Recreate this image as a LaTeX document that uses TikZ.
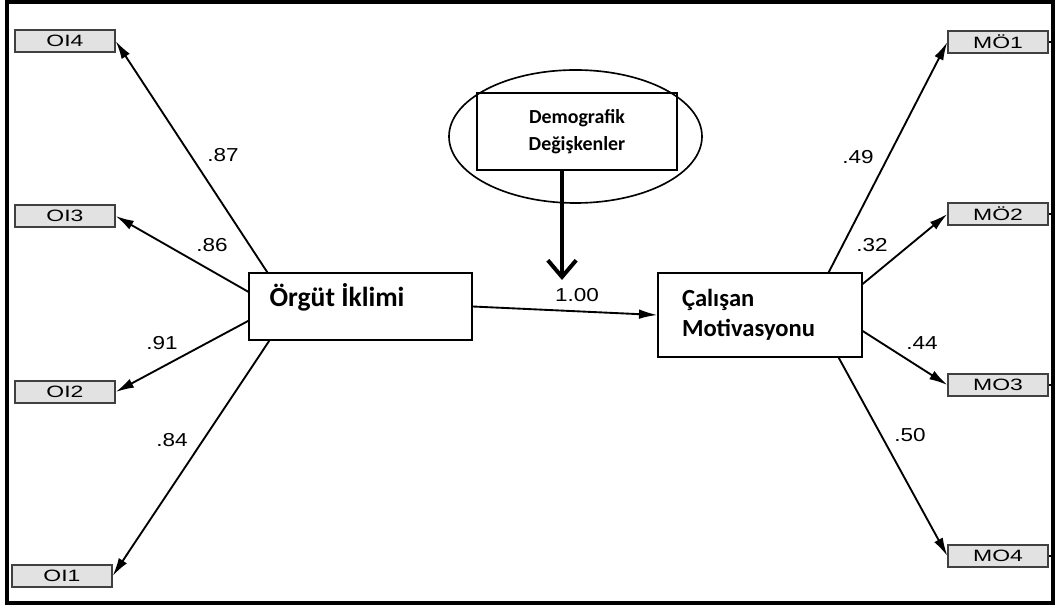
\documentclass[tikz,border=0pt]{standalone}
\usepackage{fontspec}
\setmainfont{Carlito}
\newfontfamily\coeffont[FakeStretch=1.2]{Liberation Sans}
\newfontfamily\itemfont[FakeStretch=1.4]{Liberation Sans}
\usetikzlibrary{arrows.meta,calc,shapes.geometric,positioning}
\definecolor{itemgray}{RGB}{226,226,226}
\tikzset{
  outerframe/.style={black, line width=4pt},
  indicator/.style={draw=black!75, line width=1.1pt, fill=itemgray,
                    minimum width=30mm, minimum height=6.6mm, inner sep=0pt,
                    font=\itemfont\fontsize{14}{16}\selectfont},
  latent/.style={draw=black, line width=1.1pt, fill=white, inner sep=0pt},
  effect/.style={-{Latex[length=5.5mm,width=2.9mm]}, line width=1.6pt},
  moder/.style={-{Straight Barb[length=5mm,width=8.5mm]}, line width=3.4pt},
  coef/.style={font=\coeffont\fontsize{16}{18}\selectfont},
  stub/.style={black, line width=1pt},
}

\begin{document}
\begin{tikzpicture}[x=1cm,y=1cm]
  \path[use as bounding box] (0,0) rectangle (31.68,18.3);
  \draw[outerframe] (0.21,0.21) rectangle (31.59,18.24);

  % observed items, left
  \node[indicator] (OI4) at (1.95,17.07) {OI4};
  \node[indicator] (OI3) at (1.95,11.82) {OI3};
  \node[indicator] (OI2) at (1.95,6.54) {OI2};
  \node[indicator] (OI1) at (1.86,1.02) {OI1};

  % observed items, right
  \node[indicator] (MO1) at (29.94,17.04) {MÖ1};
  \node[indicator] (MO2) at (29.94,11.88) {MÖ2};
  \node[indicator] (MO3) at (29.94,6.75) {MO3};
  \node[indicator] (MO4) at (29.94,1.62) {MO4};
  \draw[stub] (MO1.east) -- ++(0.2,0);
  \draw[stub] (MO2.east) -- ++(0.2,0);
  \draw[stub] (MO3.east) -- ++(0.2,0);
  \draw[stub] (MO4.east) -- ++(0.2,0);

  % latent boxes
  \node[latent, minimum width=66.9mm, minimum height=20.1mm] (ORG) at (10.815,9.105) {};
  \node[font=\bfseries\fontsize{23.5}{28}\selectfont, inner sep=0pt, anchor=west]
    (ORGlab) at ($(ORG.west)+(0.63,0.28)$) {Örgüt İklimi};
  \node[latent, minimum width=61.2mm, minimum height=25.2mm,
        text width=46.8mm, align=left,
        font=\bfseries\fontsize{21}{26}\selectfont] (CAL) at (22.8,8.85)
    {Çalışan\\Motivasyonu};

  % moderator
  \node[draw, ellipse, line width=1.4pt, minimum width=75.9mm,
        minimum height=39.9mm, inner sep=0pt] (DEMell) at (17.265,14.205) {};
  \node[draw, line width=2pt, minimum width=60mm, minimum height=23.1mm,
        inner sep=0pt, align=center,
        font=\bfseries\fontsize{17}{23}\selectfont] (DEM) at (17.31,14.355)
    {Demografik\\Değişkenler};
  \coordinate (DEMtip) at (16.86,9.9);
  \draw[moder] (DEM.south -| DEMtip) -- (DEMtip);

  % paths
  \draw[effect] (ORG.east) -- (CAL.west);
  \node[coef] (c100) at (17.31,9.45) {1.00};

  \draw[effect] ([xshift=5.7mm]ORG.north west) -- (OI4.east);
  \draw[effect] ([yshift=4.4mm]ORG.west) -- (OI3.east);
  \draw[effect] ([yshift=-4.3mm]ORG.west) -- (OI2.east);
  \draw[effect] ([xshift=6.3mm]ORG.south west) -- (OI1.east);
  \node[coef] (c87) at (6.69,13.65) {.87};
  \node[coef] (c86) at (6.36,10.95) {.86};
  \node[coef] (c91) at (4.86,8.01) {.91};
  \node[coef] (c84) at (5.16,5.10) {.84};

  \draw[effect] ([xshift=-10.2mm]CAL.north east) -- (MO1.west);
  \draw[effect] ([yshift=9.3mm]CAL.east) -- (MO2.west);
  \draw[effect] ([yshift=-4.8mm]CAL.east) -- (MO3.west);
  \draw[effect] ([xshift=-7.2mm]CAL.south east) -- (MO4.west);
  \node[coef] (c49) at (25.74,13.59) {.49};
  \node[coef] (c32) at (26.16,10.95) {.32};
  \node[coef] (c44) at (27.66,8.01) {.44};
  \node[coef] (c50) at (27.30,5.25) {.50};
\end{tikzpicture}
\end{document}
